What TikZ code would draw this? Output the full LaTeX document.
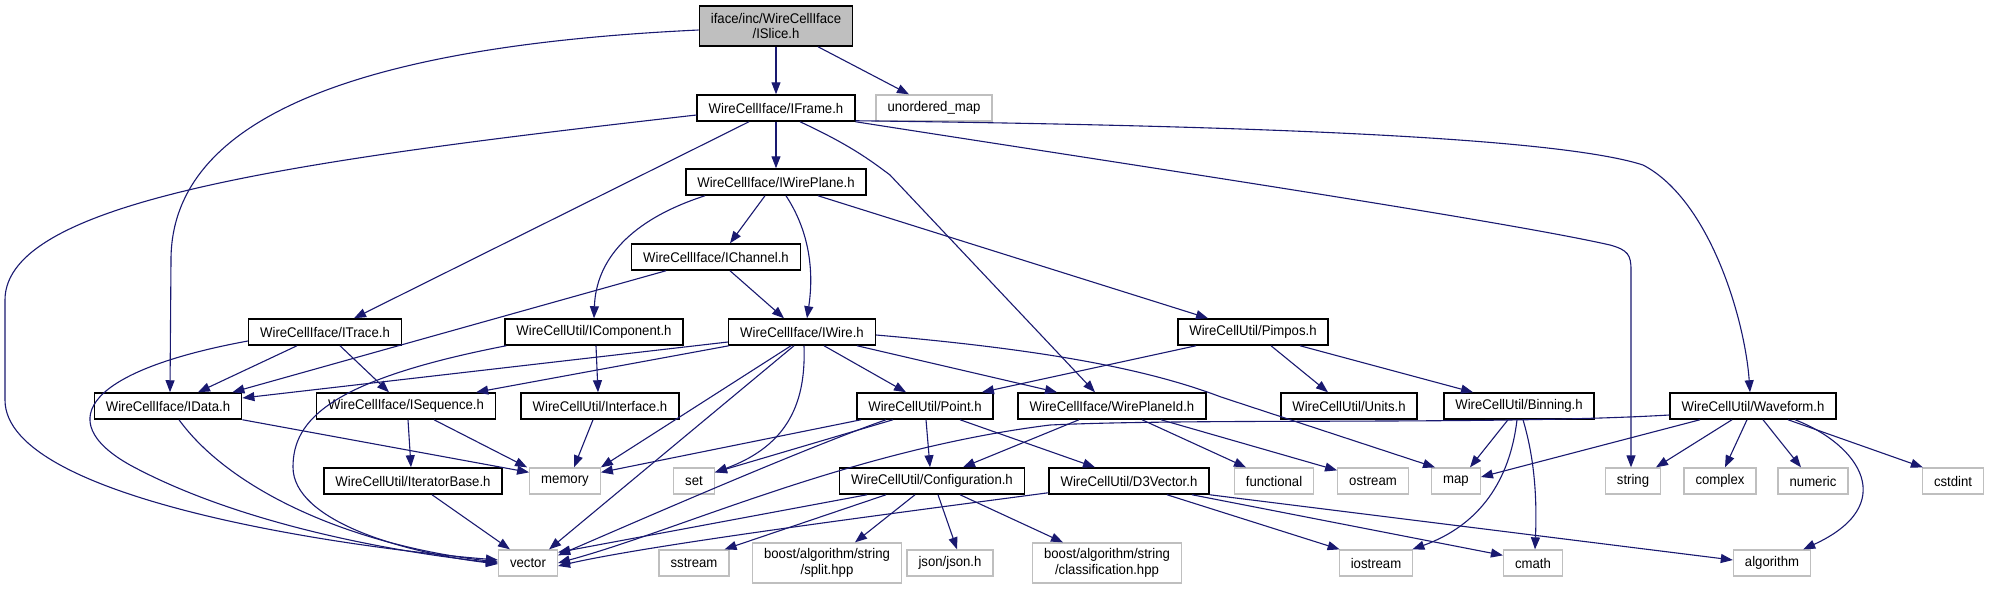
\documentclass[tikz,border=0pt]{standalone}
\usepackage{fontspec}
\setmainfont{Liberation Sans}[FakeStretch=0.94]
\usetikzlibrary{arrows.meta}
\definecolor{edgec}{HTML}{191970}
\definecolor{greyb}{HTML}{BFBFBF}
\begin{document}
\begin{tikzpicture}[x=1pt,y=-1pt,
  box/.style={draw=black,line width=1.5pt,fill=white,minimum height=26pt,inner xsep=11.5pt,inner ysep=1pt,font=\fontsize{14}{15.5}\selectfont},
  sys/.style={box,draw=greyb,line width=1.3pt},
  two/.style={align=center,minimum height=40pt},
  e/.style={draw=edgec,line width=1.1pt,-{Triangle[length=12pt,width=9pt]}}]
\useasboundingbox (0,0) rectangle (1989,589);
% nodes
\node[box,fill=greyb,two] (islice) at (776,26) {iface/inc/WireCellIface\\/ISlice.h};
\node[box] (iframe) at (776,108) {WireCellIface/IFrame.h};
\node[sys] (umap) at (934,108) {unordered\_map};
\node[box] (iwireplane) at (776,182) {WireCellIface/IWirePlane.h};
\node[box] (ichannel) at (716,257) {WireCellIface/IChannel.h};
\node[box] (itrace) at (325,332) {WireCellIface/ITrace.h};
\node[box] (icomponent) at (594,332) {WireCellUtil/IComponent.h};
\node[box] (iwire) at (802,332) {WireCellIface/IWire.h};
\node[box] (pimpos) at (1253,332) {WireCellUtil/Pimpos.h};
\node[box] (idata) at (168,406) {WireCellIface/IData.h};
\node[box] (isequence) at (406,406) {WireCellIface/ISequence.h};
\node[box] (interface) at (600,406) {WireCellUtil/Interface.h};
\node[box] (point) at (925,406) {WireCellUtil/Point.h};
\node[box] (wireplaneid) at (1112,406) {WireCellIface/WirePlaneId.h};
\node[box] (units) at (1349,406) {WireCellUtil/Units.h};
\node[box] (binning) at (1519,406) {WireCellUtil/Binning.h};
\node[box] (waveform) at (1753,406) {WireCellUtil/Waveform.h};
\node[box] (iteratorbase) at (413,481) {WireCellUtil/IteratorBase.h};
\node[sys] (memory) at (565,481) {memory};
\node[sys] (set) at (694,481) {set};
\node[box] (configuration) at (932,481) {WireCellUtil/Configuration.h};
\node[box] (d3vector) at (1129,481) {WireCellUtil/D3Vector.h};
\node[sys] (functional) at (1274,481) {functional};
\node[sys] (ostream) at (1373,481) {ostream};
\node[sys] (map) at (1456,481) {map};
\node[sys] (string) at (1633,481) {string};
\node[sys] (complex) at (1720,481) {complex};
\node[sys] (numeric) at (1813,481) {numeric};
\node[sys] (cstdint) at (1953,481) {cstdint};
\node[sys] (vector) at (528,563) {vector};
\node[sys] (sstream) at (694,563) {sstream};
\node[sys,two] (split) at (827,563) {boost/algorithm/string\\/split.hpp};
\node[sys] (json) at (950,563) {json/json.h};
\node[sys,two] (classif) at (1107,563) {boost/algorithm/string\\/classification.hpp};
\node[sys] (iostream) at (1376,563) {iostream};
\node[sys] (cmath) at (1533,563) {cmath};
\node[sys] (algorithm) at (1772,563) {algorithm};
% edges from ISlice
\draw[e] ([yshift=-4pt]islice.west) .. controls (380,45) and (171,110) .. (171,260) -- ([xshift=2pt]idata.north);
\draw[e] (islice.south) -- (iframe.north);
\draw[e] ([xshift=42pt]islice.south) -- ([xshift=-25pt]umap.north);
% edges from IFrame
\draw[e] ([yshift=-7pt]iframe.west) .. controls (300,160) and (5,200) .. (5,300) -- (5,400) .. controls (5,500) and (350,548) .. ([yshift=3pt]vector.west);
\draw[e] ([xshift=-27pt]iframe.south) -- ([xshift=29pt]itrace.north);
\draw[e] (iframe.south) -- (iwireplane.north);
\draw[e] ([xshift=24pt]iframe.south) .. controls (850,145) and (870,160) .. (890,175) -- ([xshift=-17pt]wireplaneid.north);
\draw[e] (iframe.south east) .. controls (1100,160) and (1500,220) .. (1610,245) .. controls (1628,250) and (1631,255) .. (1631,270) -- ([xshift=-2pt]string.north);
\draw[e] ([yshift=1pt]iframe.south east) .. controls (1200,125) and (1550,135) .. (1643,165) .. controls (1710,200) and (1745,320) .. ([xshift=-3pt]waveform.north);
% IWirePlane
\draw[e] ([xshift=-71pt]iwireplane.south) .. controls (630,220) and (596,260) .. (icomponent.north);
\draw[e] ([xshift=-11pt]iwireplane.south) -- ([xshift=14pt]ichannel.north);
\draw[e] ([xshift=10pt]iwireplane.south) .. controls (815,240) and (812,285) .. ([xshift=5pt]iwire.north);
\draw[e] ([xshift=42pt]iwireplane.south) -- ([xshift=-45pt]pimpos.north);
% IChannel
\draw[e] ([xshift=-50pt]ichannel.south) -- ([xshift=-10pt]idata.north east);
\draw[e] ([xshift=14pt]ichannel.south) -- ([xshift=-18pt]iwire.north);
% ITrace
\draw[e] ([yshift=-9pt]itrace.west) .. controls (90,370) and (50,420) .. (130,465) .. controls (250,530) and (420,555) .. (vector.west);
\draw[e] ([xshift=-28pt]itrace.south) -- ([xshift=30pt]idata.north);
\draw[e] ([xshift=15pt]itrace.south) -- ([xshift=-17pt]isequence.north);
% IComponent
\draw[e] ([xshift=2pt]icomponent.south west) .. controls (330,380) and (293,420) .. (293,467) .. controls (293,520) and (400,552) .. ([yshift=-1pt]vector.west);
\draw[e] ([xshift=2pt]icomponent.south) -- ([xshift=-2pt]interface.north);
% IWire
\draw[e] ([yshift=-10pt]iwire.west) -- ([yshift=8pt]idata.east);
\draw[e] ([xshift=1pt]iwire.south west) -- ([xshift=-20pt]isequence.north east);
\draw[e] ([xshift=-11pt]iwire.south) -- (memory.north east);
\draw[e] ([xshift=-8pt]iwire.south) -- ([xshift=-9pt]vector.north east);
\draw[e] ([xshift=2pt]iwire.south) .. controls (806,400) and (790,445) .. ([yshift=-5pt]set.north east);
\draw[e] ([xshift=22pt]iwire.south) -- ([xshift=-19pt]point.north);
\draw[e] ([xshift=-19pt]iwire.south east) -- ([xshift=-55pt]wireplaneid.north);
\draw[e] ([yshift=-3pt]iwire.east) .. controls (1050,350) and (1150,370) .. (1221,397) -- ([xshift=4pt]map.north west);
% Pimpos
\draw[e] ([xshift=-57pt]pimpos.south) -- ([xshift=-12pt]point.north east);
\draw[e] ([xshift=18pt]pimpos.south) -- ([xshift=-21pt]units.north);
\draw[e] ([xshift=47pt]pimpos.south) -- ([xshift=-46pt]binning.north);
% IData
\draw[e] (idata.south east) -- ([yshift=-5pt]memory.north west);
\draw[e] ([xshift=11pt]idata.south) .. controls (230,490) and (350,545) .. ([yshift=1pt]vector.west);
% ISequence
\draw[e] ([xshift=2pt]isequence.south) -- ([xshift=-2pt]iteratorbase.north);
\draw[e] ([xshift=28pt]isequence.south) -- ([xshift=-2pt]memory.north west);
% Interface
\draw[e] ([xshift=-7pt]interface.south) -- ([xshift=9pt]memory.north);
% Point
\draw[e] ([xshift=5pt]point.south west) -- ([yshift=-5pt]memory.north east);
\draw[e] ([xshift=-32pt]point.south) -- ([yshift=-5pt]set.north east);
\draw[e] ([xshift=-39pt]point.south) .. controls (800,450) and (640,520) .. ([yshift=-6pt]vector.north east);
\draw[e] ([xshift=1pt]point.south) -- ([xshift=-2pt]configuration.north);
\draw[e] ([xshift=35pt]point.south) -- ([xshift=-34pt]d3vector.north);
% WirePlaneId
\draw[e] ([xshift=-33pt]wireplaneid.south) -- ([xshift=31pt]configuration.north);
\draw[e] ([xshift=30pt]wireplaneid.south) -- ([xshift=-28pt]functional.north);
\draw[e] ([xshift=49pt]wireplaneid.south) -- ([yshift=-3pt]ostream.north west);
% Waveform
\draw[e] ([yshift=-9pt]waveform.west) .. controls (1500,425) and (1200,418) .. (1050,425) .. controls (850,450) and (680,530) .. (vector.east);
\draw[e] ([xshift=-53pt]waveform.south) -- ([yshift=4pt]map.east);
\draw[e] ([xshift=-21pt]waveform.south) -- ([xshift=23pt]string.north);
\draw[e] ([xshift=-6pt]waveform.south) -- ([xshift=5pt]complex.north);
\draw[e] ([xshift=10pt]waveform.south) -- ([xshift=-12pt]numeric.north);
\draw[e] ([xshift=35pt]waveform.south) -- ([xshift=1pt]cstdint.north west);
\draw[e] ([xshift=42pt]waveform.south) .. controls (1860,445) and (1900,505) .. ([xshift=-8pt]algorithm.north east);
% Binning
\draw[e] ([xshift=-11pt]binning.south) -- ([xshift=14pt]map.north);
\draw[e] ([xshift=-2pt]binning.south) .. controls (1510,480) and (1480,525) .. ([xshift=-1pt]iostream.north east);
\draw[e] ([xshift=4pt]binning.south) .. controls (1535,460) and (1537,500) .. ([xshift=2pt]cmath.north);
% D3Vector
\draw[e] ([yshift=2pt]d3vector.south west) .. controls (880,515) and (650,545) .. ([yshift=-3pt]vector.east);
\draw[e] ([xshift=38pt]d3vector.south) -- ([xshift=1pt]iostream.north west);
\draw[e] ([xshift=63pt]d3vector.south) -- ([yshift=-6pt]cmath.north west);
\draw[e] (d3vector.south east) -- ([yshift=3pt]algorithm.west);
% Configuration
\draw[e] ([xshift=-65pt]configuration.south) -- ([yshift=-3pt]vector.north east);
\draw[e] ([xshift=-46pt]configuration.south) -- ([xshift=-5pt]sstream.north east);
\draw[e] ([xshift=-17pt]configuration.south) -- ([xshift=28pt]split.north);
\draw[e] ([xshift=6pt]configuration.south) -- ([xshift=7pt]json.north);
\draw[e] ([xshift=28pt]configuration.south) -- ([xshift=-44pt]classif.north);
% IteratorBase
\draw[e] ([xshift=19pt]iteratorbase.south) -- ([xshift=-18pt]vector.north);
\end{tikzpicture}
\end{document}
